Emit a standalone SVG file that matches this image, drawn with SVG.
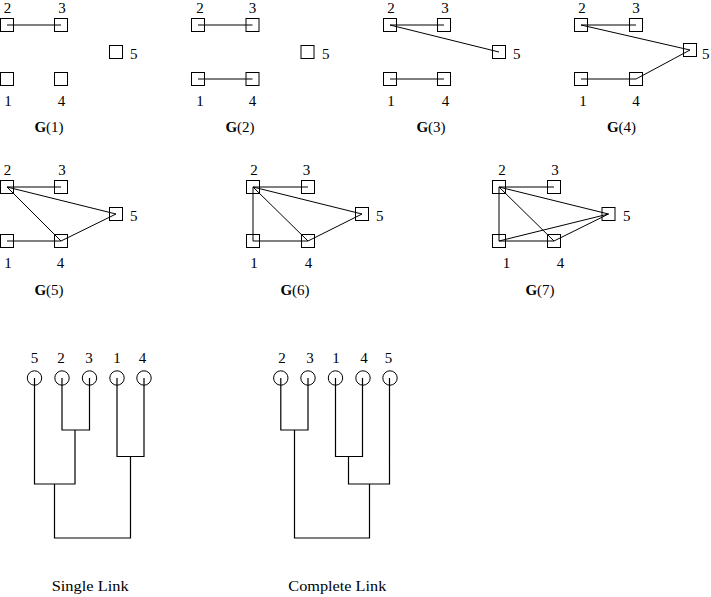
<svg xmlns="http://www.w3.org/2000/svg" width="711" height="597" viewBox="0 0 711 597">
<style>
.b{fill:none;stroke:#000;stroke-width:1}
.e{stroke:#000;stroke-width:1;fill:none}
.d{stroke:#000;stroke-width:1.2;fill:none}
text{font-family:"Liberation Serif","Times New Roman",serif;font-size:15px;fill:#000}
.c{text-anchor:middle}
.g{font-weight:bold}
</style>
<defs>
<rect id="bx" width="13" height="13" class="b"/>
<circle id="ci" r="7.2" class="b"/>
</defs>
<rect width="711" height="597" fill="#fff"/>

<!-- G(1) -->
<g id="g1">
<g id="g1n2"><use href="#bx" x="0.5" y="18.5"/><text x="7.5" y="13" class="c">2</text></g>
<g id="g1n3"><use href="#bx" x="54.5" y="18.5"/><text x="62" y="13" class="c">3</text></g>
<g id="g1n5"><use href="#bx" x="109.5" y="45.5"/><text x="130" y="59">5</text></g>
<g id="g1n1"><use href="#bx" x="0.5" y="72.5"/><text x="8" y="106" class="c">1</text></g>
<g id="g1n4"><use href="#bx" x="54.5" y="72.5"/><text x="61.5" y="106" class="c">4</text></g>
<text x="49" y="132" class="c"><tspan class="g">G</tspan>(1)</text>
</g>
<!-- G(2) -->
<g id="g2">
<g id="g2n2"><use href="#bx" x="191.5" y="18.5"/><text x="200" y="13" class="c">2</text></g>
<g id="g2n3"><use href="#bx" x="246" y="18.5"/><text x="252.5" y="13" class="c">3</text></g>
<g id="g2n5"><use href="#bx" x="301" y="45.5"/><text x="322" y="59">5</text></g>
<g id="g2n1"><use href="#bx" x="191.5" y="72.5"/><text x="200" y="106" class="c">1</text></g>
<g id="g2n4"><use href="#bx" x="246" y="72.5"/><text x="252.5" y="106" class="c">4</text></g>
<text x="240" y="132" class="c"><tspan class="g">G</tspan>(2)</text>
</g>
<!-- G(3) -->
<g id="g3">
<g id="g3n2"><use href="#bx" x="383.5" y="18.5"/><text x="391" y="13" class="c">2</text></g>
<g id="g3n3"><use href="#bx" x="437.5" y="18.5"/><text x="445" y="13" class="c">3</text></g>
<g id="g3n5"><use href="#bx" x="492.5" y="45.5"/><text x="513" y="59">5</text></g>
<g id="g3n1"><use href="#bx" x="383.5" y="72.5"/><text x="391" y="106" class="c">1</text></g>
<g id="g3n4"><use href="#bx" x="437.5" y="72.5"/><text x="445.5" y="106" class="c">4</text></g>
<text x="431" y="132" class="c"><tspan class="g">G</tspan>(3)</text>
</g>
<!-- G(4) -->
<g id="g4">
<g id="g4n2"><use href="#bx" x="574.5" y="18.5"/><text x="582" y="13" class="c">2</text></g>
<g id="g4n3"><use href="#bx" x="629.5" y="18.5"/><text x="636" y="13" class="c">3</text></g>
<g id="g4n5"><use href="#bx" x="683.5" y="43.5"/><text x="702" y="59">5</text></g>
<g id="g4n1"><use href="#bx" x="574.5" y="72.5"/><text x="583" y="106" class="c">1</text></g>
<g id="g4n4"><use href="#bx" x="629.5" y="72.5"/><text x="636" y="106" class="c">4</text></g>
<text x="621.5" y="132" class="c"><tspan class="g">G</tspan>(4)</text>
</g>
<!-- G(5) -->
<g id="g5">
<g id="g5n2"><use href="#bx" x="0.5" y="180.5"/><text x="7.5" y="175" class="c">2</text></g>
<g id="g5n3"><use href="#bx" x="54.5" y="180.5"/><text x="62" y="175" class="c">3</text></g>
<g id="g5n5"><use href="#bx" x="109.5" y="207.5"/><text x="130" y="221">5</text></g>
<g id="g5n1"><use href="#bx" x="0.5" y="234.5"/><text x="8" y="268" class="c">1</text></g>
<g id="g5n4"><use href="#bx" x="54.5" y="234.5"/><text x="60.5" y="268" class="c">4</text></g>
<text x="49" y="295" class="c"><tspan class="g">G</tspan>(5)</text>
</g>
<!-- G(6) -->
<g id="g6">
<g id="g6n2"><use href="#bx" x="246.5" y="180.5"/><text x="254" y="175" class="c">2</text></g>
<g id="g6n3"><use href="#bx" x="301.5" y="180.5"/><text x="306.5" y="175" class="c">3</text></g>
<g id="g6n5"><use href="#bx" x="355.5" y="207.5"/><text x="376" y="221">5</text></g>
<g id="g6n1"><use href="#bx" x="246.5" y="234.5"/><text x="254" y="268" class="c">1</text></g>
<g id="g6n4"><use href="#bx" x="301.5" y="234.5"/><text x="308.5" y="268" class="c">4</text></g>
<text x="295" y="295" class="c"><tspan class="g">G</tspan>(6)</text>
</g>
<!-- G(7) -->
<g id="g7">
<g id="g7n2"><use href="#bx" x="492.5" y="180.5"/><text x="502" y="175" class="c">2</text></g>
<g id="g7n3"><use href="#bx" x="547.5" y="180.5"/><text x="555" y="175" class="c">3</text></g>
<g id="g7n5"><use href="#bx" x="602" y="207.5"/><text x="623" y="221">5</text></g>
<g id="g7n1"><use href="#bx" x="492.5" y="234.5"/><text x="506.5" y="268" class="c">1</text></g>
<g id="g7n4"><use href="#bx" x="547.5" y="234.5"/><text x="560.5" y="268" class="c">4</text></g>
<text x="540" y="295" class="c"><tspan class="g">G</tspan>(7)</text>
</g>

<g id="edges" class="e">
<!-- G1 -->
<line x1="7" y1="25" x2="61" y2="25"/>
<!-- G2 -->
<line x1="198" y1="25" x2="252.5" y2="25"/>
<line x1="198" y1="79" x2="252.5" y2="79"/>
<!-- G3 -->
<line x1="390" y1="25" x2="444" y2="25"/>
<line x1="390" y1="79" x2="444" y2="79"/>
<line x1="390" y1="25" x2="499" y2="52"/>
<!-- G4 -->
<line x1="581" y1="25" x2="636" y2="25"/>
<line x1="581" y1="79" x2="636" y2="79"/>
<line x1="581" y1="25" x2="690" y2="50"/>
<line x1="636" y1="79" x2="690" y2="50"/>
<!-- G5 -->
<line x1="7" y1="187" x2="61" y2="187"/>
<line x1="7" y1="241" x2="61" y2="241"/>
<line x1="7" y1="187" x2="116" y2="214"/>
<line x1="61" y1="241" x2="116" y2="214"/>
<line x1="7" y1="187" x2="61" y2="241"/>
<!-- G6 -->
<line x1="253" y1="187" x2="308" y2="187"/>
<line x1="253" y1="241" x2="308" y2="241"/>
<line x1="253" y1="187" x2="253" y2="241"/>
<line x1="253" y1="187" x2="362" y2="214"/>
<line x1="308" y1="241" x2="362" y2="214"/>
<line x1="253" y1="187" x2="308" y2="241"/>
<!-- G7 -->
<line x1="499" y1="187" x2="554" y2="187"/>
<line x1="499" y1="241" x2="554" y2="241"/>
<line x1="499" y1="187" x2="499" y2="241"/>
<line x1="499" y1="187" x2="608.5" y2="214"/>
<line x1="554" y1="241" x2="608.5" y2="214"/>
<line x1="499" y1="187" x2="554" y2="241"/>
<line x1="499" y1="241" x2="608.5" y2="214"/>
</g>

<!-- Single link dendrogram -->
<g id="single">
<g id="s5"><use href="#ci" x="34.5" y="378"/><text x="34.5" y="363" class="c">5</text></g>
<g id="s2"><use href="#ci" x="62" y="378"/><text x="61" y="363" class="c">2</text></g>
<g id="s3"><use href="#ci" x="89.5" y="378"/><text x="89" y="363" class="c">3</text></g>
<g id="s1"><use href="#ci" x="117" y="378"/><text x="117" y="363" class="c">1</text></g>
<g id="s4"><use href="#ci" x="144" y="378"/><text x="142.5" y="363" class="c">4</text></g>
<text x="51.7" y="591" textLength="77" lengthAdjust="spacingAndGlyphs">Single Link</text>
</g>
<g id="single-links" class="d">
<path d="M62,378 V430 H89.5 V378"/>
<path d="M117,378 V456.5 H144 V378"/>
<path d="M34.5,378 V484 H75 V430"/>
<path d="M54.5,484 V538 H130.5 V456.5"/>
</g>

<!-- Complete link dendrogram -->
<g id="complete">
<g id="c2"><use href="#ci" x="280.8" y="378"/><text x="282" y="363" class="c">2</text></g>
<g id="c3"><use href="#ci" x="308" y="378"/><text x="310" y="363" class="c">3</text></g>
<g id="c1"><use href="#ci" x="335.5" y="378"/><text x="336" y="363" class="c">1</text></g>
<g id="c4"><use href="#ci" x="363" y="378"/><text x="364" y="363" class="c">4</text></g>
<g id="c5"><use href="#ci" x="390" y="378"/><text x="388.5" y="363" class="c">5</text></g>
<text x="288.3" y="591" textLength="98" lengthAdjust="spacingAndGlyphs">Complete Link</text>
</g>
<g id="complete-links" class="d">
<path d="M280.8,378 V430 H308 V378"/>
<path d="M335.5,378 V456.5 H362.5 V378"/>
<path d="M348.5,456.5 V484 H389.5 V378"/>
<path d="M294.5,430 V538 H369.5 V484"/>
</g>
</svg>
